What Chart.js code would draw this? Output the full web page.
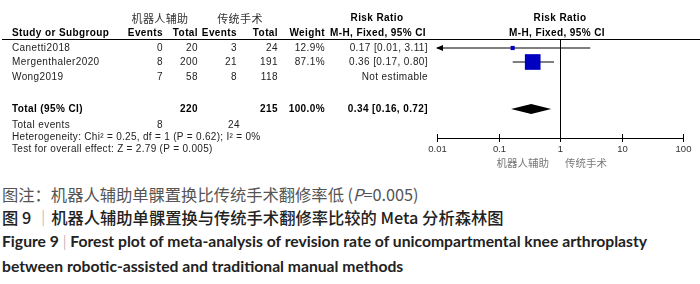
<!DOCTYPE html>
<html lang="zh">
<head>
<meta charset="UTF-8">
<title>Forest plot - revision rate</title>
<script src="https://cdn.jsdelivr.net/npm/chart.js"></script>
<style>
    body { margin: 0; background: #fff; width: 700px; height: 284px; position: relative; overflow: hidden; }
    #plot { position: absolute; left: 0; top: 0; }
    .cap { position: absolute; left: 2px; white-space: nowrap; }
    .cn { font-family: "Noto Sans CJK SC", sans-serif; font-size: 16.3px; }
    .note { top: 182px; color: #555; }
    .title-cn { top: 205px; color: #222; font-weight: 500; }
    .en { font-family: Lato, "Open Sans", sans-serif; font-weight: 700; font-size: 15.7px; color: #222; }
    .en1 { top: 232px; }
    .en2 { top: 257px; }
    .bar { color: #999; font-weight: 300; }
</style>
</head>
<body>
<canvas id="plot" width="700" height="180"></canvas>
<div class="cap cn note">图注：机器人辅助单髁置换比传统手术翻修率低 (<i>P</i>=0.005)</div>
<div class="cap cn title-cn">图 9 <span class="bar">｜</span>机器人辅助单髁置换与传统手术翻修率比较的 Meta 分析森林图</div>
<div class="cap en en1">Figure 9 <span class="bar">|</span> Forest plot of meta-analysis of revision rate of unicompartmental knee arthroplasty</div>
<div class="cap en en2">between robotic-assisted and traditional manual methods</div>

<script>
// data
const studies = ['Canetti2018', 'Mergenthaler2020', 'Wong2019'];
const roboEvents = [0, 8, 7];
const roboTotal = [20, 200, 58];
const tradEvents = [3, 21, 8];
const tradTotal = [24, 191, 118];
const weights = [12.9, 87.1, null];
const riskRatio = [0.17, 0.36, null];
const ciLow = [0.01, 0.17, null];
const ciHigh = [3.11, 0.80, null];
const pooled = [0.34, 0.16, 0.72];       // estimate, lower, upper
const pooledTotals = [220, 215];
const pooledEvents = [8, 24];
const groupNames = ['机器人辅助', '传统手术'];
const axisTicks = [0.01, 0.1, 1, 10, 100];
const axisTickLabels = ['0.01', '0.1', '1', '10', '100'];
const hetText = 'Heterogeneity: Chi\u00b2 = 0.25, df = 1 (P = 0.62); I\u00b2 = 0%';
const testText = 'Test for overall effect: Z = 2.79 (P = 0.005)';

// layout (pixel rows, y scale is set up so value == pixel)
const rowY = [48, 62, 77];
const totalY = 109;
const axisY = 138;
const ARIAL = '"Liberation Sans", Arial, sans-serif';

const fmtCI = (e, l, h) => e.toFixed(2) + ' [' + l.toFixed(2) + ', ' + h.toFixed(2) + ']';

const ciSets = [];
studies.forEach((s, i) => {
    if (riskRatio[i] == null) return;
    ciSets.push({
        type: 'line',
        data: [{ x: ciLow[i], y: rowY[i] }, { x: ciHigh[i], y: rowY[i] }],
        borderColor: '#000',
        borderWidth: 1,
        pointRadius: 0,
        order: 2
    });
});

const squareData = [], squareSize = [];
studies.forEach((s, i) => {
    if (riskRatio[i] == null) return;
    squareData.push({ x: riskRatio[i], y: rowY[i] });
    squareSize.push(0.11 * weights[i] + 1.5);
});

const forestPlugin = {
    id: 'forest',
    beforeDatasetsDraw(chart) {
        const { ctx, scales: { x } } = chart;
        ctx.save();
        // header rule
        ctx.strokeStyle = '#000';
        ctx.lineWidth = 1;
        ctx.beginPath();
        ctx.moveTo(2, 39.5);
        ctx.lineTo(700, 39.5);
        ctx.stroke();
        // line of no effect
        const x1 = Math.round(x.getPixelForValue(1)) + 0.5;
        ctx.beginPath();
        ctx.moveTo(x1, 39);
        ctx.lineTo(x1, axisY);
        ctx.stroke();
        ctx.restore();
    },
    afterDatasetsDraw(chart) {
        const { ctx, scales: { x, y } } = chart;
        ctx.save();
        // arrow where the CI runs past the axis
        studies.forEach((s, i) => {
            if (riskRatio[i] == null) return;
            if (ciLow[i] <= x.min) {
                const px = x.getPixelForValue(x.min), py = y.getPixelForValue(rowY[i]);
                ctx.fillStyle = '#000';
                ctx.beginPath();
                ctx.moveTo(px - 1, py);
                ctx.lineTo(px + 6, py - 3);
                ctx.lineTo(px + 6, py + 3);
                ctx.closePath();
                ctx.fill();
            }
        });
        // pooled diamond
        const dy = y.getPixelForValue(totalY);
        ctx.fillStyle = '#000';
        ctx.beginPath();
        ctx.moveTo(x.getPixelForValue(pooled[1]), dy);
        ctx.lineTo(x.getPixelForValue(pooled[0]), dy - 5);
        ctx.lineTo(x.getPixelForValue(pooled[2]), dy);
        ctx.lineTo(x.getPixelForValue(pooled[0]), dy + 5);
        ctx.closePath();
        ctx.fill();
        // axis
        ctx.strokeStyle = '#000';
        ctx.lineWidth = 1;
        ctx.beginPath();
        ctx.moveTo(x.getPixelForValue(axisTicks[0]), axisY + 0.5);
        ctx.lineTo(x.getPixelForValue(axisTicks[axisTicks.length - 1]), axisY + 0.5);
        ctx.stroke();
        ctx.font = '9.5px ' + ARIAL;
        ctx.fillStyle = '#333';
        ctx.textAlign = 'center';
        ctx.textBaseline = 'middle';
        axisTicks.forEach((t, i) => {
            const px = Math.round(x.getPixelForValue(t)) + 0.5;
            ctx.beginPath();
            ctx.moveTo(px, axisY - 4);
            ctx.lineTo(px, axisY + 4);
            ctx.stroke();
            ctx.fillText(axisTickLabels[i], px, axisY + 11);
        });
        // favours labels
        ctx.font = '10.5px "Noto Sans CJK SC", sans-serif';
        ctx.fillStyle = '#777';
        ctx.textAlign = 'right';
        ctx.fillText(groupNames[0], 549, 163);
        ctx.textAlign = 'left';
        ctx.fillText(groupNames[1], 565, 163);
        ctx.restore();
    },
    afterDraw(chart) {
        const { ctx } = chart;
        ctx.save();
        ctx.textBaseline = 'middle';
        ctx.letterSpacing = '0.4px';
        const put = (t, px, py, align, bold, color) => {
            ctx.font = (bold ? 'bold ' : '') + '10px ' + ARIAL;
            ctx.fillStyle = color || (bold ? '#000' : '#222');
            ctx.textAlign = align;
            ctx.fillText(t, px, py);
        };
        // group headers
        ctx.font = '11px "Noto Sans CJK SC", sans-serif';
        ctx.fillStyle = '#333';
        ctx.textAlign = 'center';
        ctx.fillText(groupNames[0], 160, 19);
        ctx.fillText(groupNames[1], 240, 19);
        put('Risk Ratio', 377, 18, 'center', true);
        put('Risk Ratio', 560, 18, 'center', true);
        // column headers
        const hy = 33;
        put('Study or Subgroup', 12, hy, 'left', true);
        put('Events', 163, hy, 'right', true);
        put('Total', 198, hy, 'right', true);
        put('Events', 237, hy, 'right', true);
        put('Total', 278, hy, 'right', true);
        put('Weight', 325, hy, 'right', true);
        put('M-H, Fixed, 95% CI', 378, hy, 'center', true);
        put('M-H, Fixed, 95% CI', 557, hy, 'center', true);
        // study rows
        studies.forEach((s, i) => {
            const ry = rowY[i];
            put(s, 12, ry, 'left');
            put(String(roboEvents[i]), 163, ry, 'right');
            put(String(roboTotal[i]), 198, ry, 'right');
            put(String(tradEvents[i]), 237, ry, 'right');
            put(String(tradTotal[i]), 278, ry, 'right');
            if (weights[i] != null) put(weights[i].toFixed(1) + '%', 325, ry, 'right');
            put(riskRatio[i] == null ? 'Not estimable' : fmtCI(riskRatio[i], ciLow[i], ciHigh[i]), 428, ry, 'right');
        });
        // totals
        put('Total (95% CI)', 12, totalY, 'left', true);
        put(String(pooledTotals[0]), 198, totalY, 'right', true);
        put(String(pooledTotals[1]), 278, totalY, 'right', true);
        put('100.0%', 325, totalY, 'right', true);
        put(fmtCI(pooled[0], pooled[1], pooled[2]), 428, totalY, 'right', true);
        put('Total events', 12, 125, 'left');
        put(String(pooledEvents[0]), 163, 125, 'right');
        put(String(pooledEvents[1]), 240, 125, 'right');
        ctx.letterSpacing = '0.3px';
        put(hetText, 12, 137, 'left');
        put(testText, 12, 149, 'left');
        ctx.restore();
    }
};

const chart = new Chart(document.getElementById('plot'), {
    type: 'scatter',
    data: {
        datasets: [{
            type: 'scatter',
            data: squareData,
            pointStyle: 'rect',
            pointRadius: squareSize,
            backgroundColor: '#0000c0',
            borderWidth: 0,
            order: 1
        }].concat(ciSets)
    },
    options: {
        responsive: false,
        animation: false,
        devicePixelRatio: 1,
        layout: { padding: { left: 437, right: 17, top: 40, bottom: 180 - axisY } },
        plugins: { legend: { display: false }, tooltip: { enabled: false } },
        scales: {
            x: { type: 'logarithmic', min: 0.01, max: 100, display: false },
            y: { type: 'linear', min: 40, max: axisY, reverse: true, display: false }
        }
    },
    plugins: [forestPlugin]
});
</script>
</body>
</html>
